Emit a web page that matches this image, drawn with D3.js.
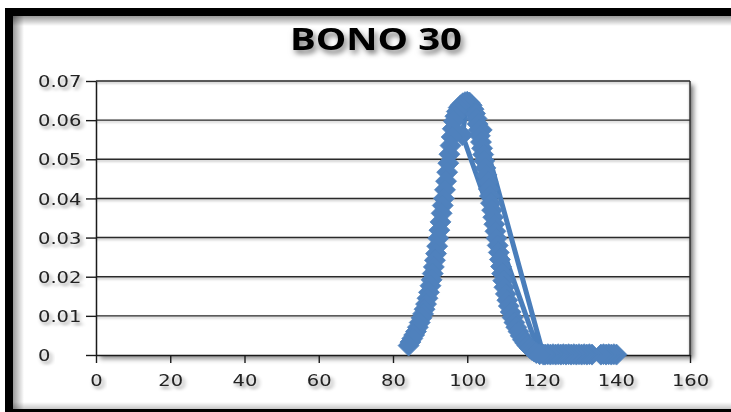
<!DOCTYPE html>
<html><head><meta charset="utf-8">
<script src="https://cdn.jsdelivr.net/npm/d3@7"></script>
<style>
html,body{margin:0;padding:0;background:#fff;overflow:hidden;}
svg{display:block;overflow:hidden;}
</style></head><body>
<svg id="chart" width="731" height="412"></svg>
<script>
const chartTitle = "BONO 30";
const xTicks = [0, 20, 40, 60, 80, 100, 120, 140, 160];
const yTicks = [0, 0.01, 0.02, 0.03, 0.04, 0.05, 0.06, 0.07];

// points in the order the series connects them:
// tail (right to left), jump, falling side, jump, rising side (right to left)
const xValues = [
  140.2, 139.5, 138.8, 138.1, 137.4, 136.7, 136.0, 133.6, 132.9, 132.2, 131.5, 130.8, 130.1,
  129.4, 128.7, 128.0, 127.3, 126.6, 125.9, 125.2, 124.5, 123.8, 123.1, 122.4, 121.7, 121.0, 120.5,
  103.9,
  100.6, 101.2, 101.7, 102.1, 102.5, 102.8, 103.1, 103.4, 103.7, 104.0, 104.3, 104.6, 104.9, 105.2,
  105.5, 105.8, 106.1, 106.4, 106.7, 107.0, 107.3, 107.6, 107.9, 108.2, 108.5, 108.8, 109.1, 109.4,
  109.7, 110.0, 110.4, 110.8, 111.2, 111.7, 112.2, 112.7, 113.2, 113.8, 114.4, 115.0, 115.6, 116.2,
  116.8, 117.4, 118.0, 118.6, 119.5,
  98.7,
  100.0, 99.4, 98.8, 98.2, 97.7, 97.2, 96.8, 96.4, 96.1, 95.8, 95.5, 95.2, 94.9, 94.6, 94.3, 94.0,
  93.7, 93.4, 93.1, 92.8, 92.5, 92.2, 91.9, 91.6, 91.3, 91.0, 90.7, 90.4, 90.1, 89.7, 89.3, 88.9,
  88.5, 88.1, 87.7, 87.2, 86.7, 86.2, 85.7, 85.2, 84.7, 84.2
];
const yValues = [
  0.0001, 0.0002, 0.0001, 0.0002, 0.0001, 0.0002, 0.0001, 0.0001, 0.0002, 0.0001, 0.0002, 0.0001, 0.0002,
  0.0001, 0.0002, 0.0001, 0.0002, 0.0001, 0.0002, 0.0001, 0.0002, 0.0001, 0.0002, 0.0001, 0.0002, 0.0001, 0.0001,
  0.0575,
  0.0645, 0.0638, 0.0628, 0.0617, 0.0604, 0.0590, 0.0575, 0.0560, 0.0544, 0.0528, 0.0512, 0.0496, 0.0478, 0.0460,
  0.0442, 0.0424, 0.0406, 0.0388, 0.0370, 0.0352, 0.0334, 0.0316, 0.0298, 0.0280, 0.0262, 0.0244, 0.0226, 0.0208,
  0.0190, 0.0173, 0.0156, 0.0140, 0.0125, 0.0110, 0.0096, 0.0083, 0.0071, 0.0060, 0.0049, 0.0039, 0.0031, 0.0024,
  0.0018, 0.0013, 0.0009, 0.0005, 0.0002,
  0.0562,
  0.0647, 0.0646, 0.0643, 0.0638, 0.0632, 0.0622, 0.0610, 0.0597, 0.0578, 0.0557, 0.0535, 0.0513, 0.0490, 0.0467, 0.0444, 0.0422,
  0.0400, 0.0382, 0.0362, 0.0340, 0.0319, 0.0298, 0.0278, 0.0259, 0.0242, 0.0225, 0.0208, 0.0192, 0.0177, 0.0160, 0.0145, 0.0130,
  0.0117, 0.0105, 0.0095, 0.0083, 0.0071, 0.0060, 0.0051, 0.0042, 0.0033, 0.0024
];

const W = 731, H = 412;
const svg = d3.select("#chart");
const defs = svg.append("defs");

function shadow(id, dx, dy, sd, op) {
  const f = defs.append("filter").attr("id", id)
    .attr("x", "-20%").attr("y", "-40%").attr("width", "150%").attr("height", "200%");
  f.append("feDropShadow").attr("dx", dx).attr("dy", dy).attr("stdDeviation", sd)
    .attr("flood-color", "#000").attr("flood-opacity", op);
}
shadow("txtShadow", 2, 3, 1.8, 0.4);
shadow("titleShadow", 2, 4, 2.4, 0.5);
shadow("plotShadow", 4, 4, 2.5, 0.45);
shadow("gridShadow", 0, 1.5, 0.8, 0.3);

function grad(id, x1, y1, x2, y2, op) {
  const g = defs.append("linearGradient").attr("id", id)
    .attr("x1", x1).attr("y1", y1).attr("x2", x2).attr("y2", y2);
  g.append("stop").attr("offset", 0).attr("stop-color", "#000").attr("stop-opacity", op);
  g.append("stop").attr("offset", 1).attr("stop-color", "#000").attr("stop-opacity", 0);
}
grad("gl", 0, 0, 1, 0, 0.4);
grad("gt", 0, 0, 0, 1, 0.4);
grad("gb", 0, 1, 0, 0, 0.22);

svg.append("rect").attr("width", W).attr("height", H).attr("fill", "#fff");
svg.append("rect").attr("x", 13).attr("y", 16).attr("width", 11).attr("height", 393).attr("fill", "url(#gl)");
svg.append("rect").attr("x", 13).attr("y", 16).attr("width", 718).attr("height", 10).attr("fill", "url(#gt)");
svg.append("rect").attr("x", 13).attr("y", 402).attr("width", 718).attr("height", 7).attr("fill", "url(#gb)");
// black frame (top, left, bottom bands)
svg.append("rect").attr("x", 5).attr("y", 8).attr("width", W - 5).attr("height", 8).attr("fill", "#000");
svg.append("rect").attr("x", 5).attr("y", 8).attr("width", 8).attr("height", H - 8).attr("fill", "#000");
svg.append("rect").attr("x", 5).attr("y", 409).attr("width", W - 5).attr("height", 3).attr("fill", "#000");

const x = d3.scaleLinear().domain([0, 160]).range([96, 690]);
const y = d3.scaleLinear().domain([0, 0.07]).range([355, 81]);

// title
svg.append("text").text(chartTitle)
  .attr("transform", "translate(376,50) scale(1.24,1)")
  .attr("text-anchor", "middle")
  .attr("font-family", "'Open Sans', sans-serif").attr("font-weight", 700).attr("font-size", 31)
  .attr("fill", "#000").attr("filter", "url(#titleShadow)");

// plot area
svg.append("rect").attr("x", x(0)).attr("y", y(0.07)).attr("width", x(160) - x(0)).attr("height", y(0) - y(0.07))
  .attr("fill", "#fff").attr("filter", "url(#plotShadow)");

const grid = svg.append("g").attr("filter", "url(#gridShadow)");
grid.selectAll("line.h").data(yTicks.filter(d => d > 0)).join("line")
  .attr("x1", x(0)).attr("x2", x(160)).attr("y1", d => y(d)).attr("y2", d => y(d))
  .attr("stroke", "#2a2a2a").attr("stroke-width", 1.4);
grid.append("line").attr("x1", x(160)).attr("x2", x(160)).attr("y1", y(0.07)).attr("y2", y(0))
  .attr("stroke", "#2a2a2a").attr("stroke-width", 1.4);

const gx = svg.append("g").attr("transform", `translate(0,${y(0)})`)
  .call(d3.axisBottom(x).tickValues(xTicks).tickSize(8).tickSizeOuter(0).tickFormat(d3.format("d")));
const gy = svg.append("g").attr("transform", `translate(${x(0)},0)`)
  .call(d3.axisLeft(y).tickValues(yTicks).tickSize(10).tickSizeOuter(0)
    .tickFormat(d => d === 0 ? "0" : d3.format(".2f")(d)));

[gx, gy].forEach(g => {
  g.select(".domain").attr("stroke", "#1a1a1a").attr("stroke-width", 1.5);
  g.selectAll(".tick line").attr("stroke", "#1a1a1a").attr("stroke-width", 1.4);
  g.selectAll(".tick text").attr("font-family", "'DejaVu Sans', Verdana, sans-serif")
    .attr("font-size", 16).attr("fill", "#222").attr("filter", "url(#txtShadow)");
});
gx.selectAll(".tick text").attr("y", 0).attr("dy", 0)
  .attr("text-anchor", "middle").attr("transform", "translate(0,31) scale(1.22,1)");
gy.selectAll(".tick text").attr("x", 0).attr("dy", "0.35em")
  .attr("text-anchor", "start").attr("transform", `translate(${38 - x(0)},0) scale(1.22,1)`);

// series
const color = "#4A7EBB";
const idx = d3.range(xValues.length);
const line = d3.line().x(i => x(xValues[i])).y(i => y(yValues[i]));
svg.append("path").datum(idx).attr("d", line)
  .attr("fill", "none").attr("stroke", color).attr("stroke-width", 5)
  .attr("stroke-linejoin", "round").attr("stroke-linecap", "round");
const h = 10.5;
svg.append("g").selectAll("path").data(idx).join("path")
  .attr("d", `M0,${-h}L${h},0L0,${h}L${-h},0Z`)
  .attr("transform", i => `translate(${x(xValues[i])},${y(yValues[i])})`)
  .attr("fill", "#4F81BD").attr("stroke", "#4F81BD").attr("stroke-width", 0.8);
</script>
</body></html>
